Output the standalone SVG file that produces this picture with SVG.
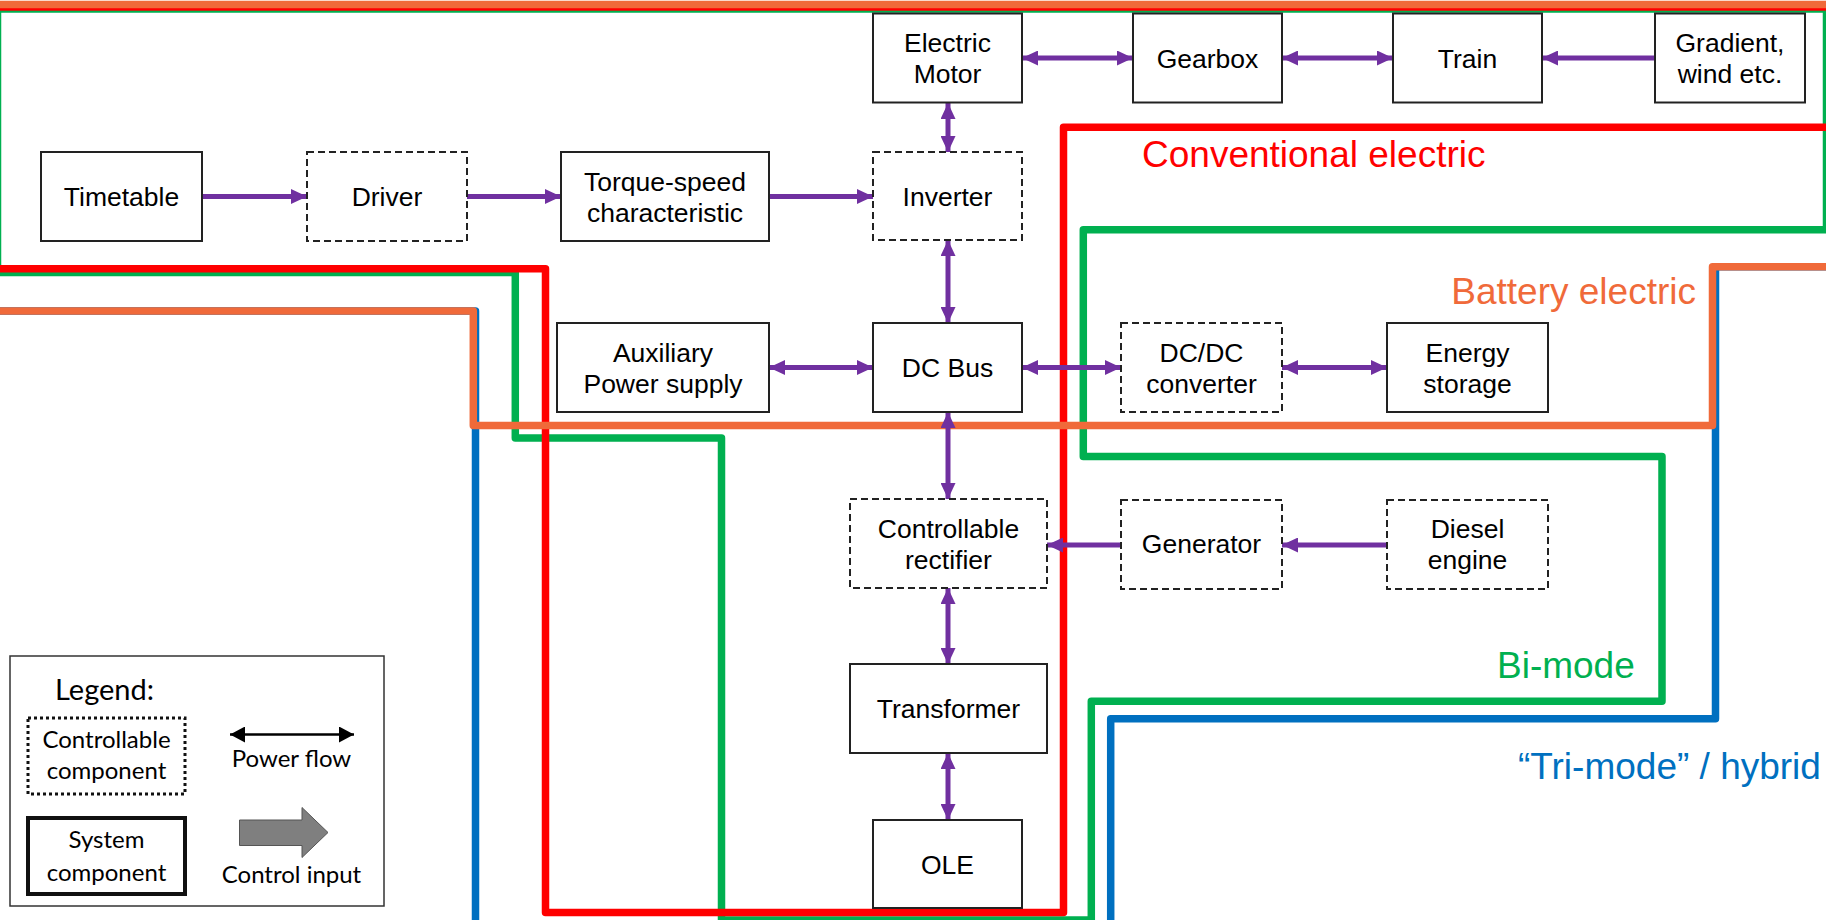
<svg xmlns="http://www.w3.org/2000/svg" width="1826" height="920" viewBox="0 0 1826 920">
<style>
.box{fill:#fff;stroke:#222;stroke-width:2}
.dash{fill:#fff;stroke:#222;stroke-width:2;stroke-dasharray:7 4}
.t{font-family:"Liberation Sans",Arial,sans-serif;font-size:26.5px;fill:#000;text-anchor:middle}
.lbl{font-family:"Liberation Sans",Arial,sans-serif;font-size:37px}
.zone{fill:none;stroke-width:7.5;stroke-linejoin:round}
.con{fill:none;stroke:#7030A0;stroke-width:5;marker-end:url(#ah)}
.bi{marker-start:url(#ah)}
.lg{font-family:Lato,"Open Sans",sans-serif;font-size:24px;fill:#000;text-anchor:middle}
.lgh{font-family:Lato,"Open Sans",sans-serif;font-size:29px;fill:#000;text-anchor:start}
</style>
<defs>
<marker id="ah" markerUnits="userSpaceOnUse" markerWidth="16" markerHeight="15" refX="16" refY="7.5" orient="auto-start-reverse">
<path d="M0,0 L16,7.5 L0,15 z" fill="#7030A0"/>
</marker>
<marker id="bk" markerUnits="userSpaceOnUse" markerWidth="15" markerHeight="16" refX="15" refY="8" orient="auto-start-reverse">
<path d="M0,0 L15,8 L0,16 z" fill="#000"/>
</marker>
</defs>
<rect width="1826" height="920" fill="#fff"/>

<g id="zones">
<path class="zone" stroke="#00B050" d="M-2.5 272.5 H515.3 V438 H721.5 V920 H1091.3 V701.2 H1662 V456.5 H1083.3 V229.7 H1826.5 V9 H-2.5 Z"/>
<path class="zone" stroke="#0070C0" d="M-10 311 H475.5 V935 M1110.7 935 V718.8 H1715.5 V266.7 H1840"/>
<path class="zone" stroke="#FF0000" d="M-10 268.8 H545.5 V912.5 H1063.5 V127.2 H1840 V7 H-10 Z"/>
<path class="zone" stroke="#F06A3A" d="M-10 311 H473.3 V425.5 H1712.5 V266.7 H1840 V4.5 H-10 Z"/>
<text class="lbl" x="1142" y="167" fill="#FF0000">Conventional electric</text>
<text class="lbl" x="1696" y="304" fill="#F06A3A" text-anchor="end">Battery electric</text>
<text class="lbl" x="1497" y="678" fill="#00B050">Bi-mode</text>
<text class="lbl" x="1518" y="779" fill="#0070C0">“Tri-mode” / hybrid</text>
</g>

<g id="connectors">
<path class="con" d="M202 196.5 H307"/>
<path class="con" d="M467 196.5 H561"/>
<path class="con" d="M769 196.5 H873"/>
<path class="con bi" d="M1022 58 H1133"/>
<path class="con bi" d="M1282 58 H1393"/>
<path class="con" d="M1655 58 H1542"/>
<path class="con bi" d="M948 103 V152"/>
<path class="con bi" d="M948 240 V323"/>
<path class="con bi" d="M769 367.5 H873"/>
<path class="con bi" d="M1022 367.5 H1121"/>
<path class="con bi" d="M1282 367.5 H1387"/>
<path class="con bi" d="M948 412 V499"/>
<path class="con" d="M1121 545 H1047"/>
<path class="con" d="M1387 545 H1282"/>
<path class="con bi" d="M948 588 V664"/>
<path class="con bi" d="M948 753 V820"/>
</g>

<g id="electric-motor"><rect class="box" x="873" y="13.5" width="149" height="89"/><text class="t" x="947.5" y="52">Electric</text><text class="t" x="947.5" y="83">Motor</text></g>
<g id="gearbox"><rect class="box" x="1133" y="13.5" width="149" height="89"/><text class="t" x="1207.5" y="67.5">Gearbox</text></g>
<g id="train"><rect class="box" x="1393" y="13.5" width="149" height="89"/><text class="t" x="1467.5" y="67.5">Train</text></g>
<g id="gradient"><rect class="box" x="1655" y="13.5" width="150" height="89"/><text class="t" x="1730" y="52">Gradient,</text><text class="t" x="1730" y="83">wind etc.</text></g>

<g id="timetable"><rect class="box" x="41" y="152" width="161" height="89"/><text class="t" x="121.5" y="206">Timetable</text></g>
<g id="driver"><rect class="dash" x="307" y="152" width="160" height="89"/><text class="t" x="387" y="206">Driver</text></g>
<g id="torque-speed"><rect class="box" x="561" y="152" width="208" height="89"/><text class="t" x="665" y="190.5">Torque-speed</text><text class="t" x="665" y="221.5">characteristic</text></g>
<g id="inverter"><rect class="dash" x="873" y="152" width="149" height="88"/><text class="t" x="947.5" y="206">Inverter</text></g>

<g id="auxiliary"><rect class="box" x="557" y="323" width="212" height="89"/><text class="t" x="663" y="361.5">Auxiliary</text><text class="t" x="663" y="392.5">Power supply</text></g>
<g id="dc-bus"><rect class="box" x="873" y="323" width="149" height="89"/><text class="t" x="947.5" y="377">DC Bus</text></g>
<g id="dcdc"><rect class="dash" x="1121" y="323" width="161" height="89"/><text class="t" x="1201.5" y="361.5">DC/DC</text><text class="t" x="1201.5" y="392.5">converter</text></g>
<g id="energy-storage"><rect class="box" x="1387" y="323" width="161" height="89"/><text class="t" x="1467.5" y="361.5">Energy</text><text class="t" x="1467.5" y="392.5">storage</text></g>

<g id="rectifier"><rect class="dash" x="850" y="499" width="197" height="89"/><text class="t" x="948.5" y="537.5">Controllable</text><text class="t" x="948.5" y="568.5">rectifier</text></g>
<g id="generator"><rect class="dash" x="1121" y="500" width="161" height="89"/><text class="t" x="1201.5" y="553">Generator</text></g>
<g id="diesel"><rect class="dash" x="1387" y="500" width="161" height="89"/><text class="t" x="1467.5" y="537.5">Diesel</text><text class="t" x="1467.5" y="568.5">engine</text></g>
<g id="transformer"><rect class="box" x="850" y="664" width="197" height="89"/><text class="t" x="948.5" y="718">Transformer</text></g>
<g id="ole"><rect class="box" x="873" y="820" width="149" height="88"/><text class="t" x="947.5" y="873.5">OLE</text></g>

<g id="legend">
<rect x="10" y="656" width="374" height="250" fill="#fff" stroke="#333" stroke-width="1.5"/>
<text class="lgh" x="55" y="699.5">Legend:</text>
<rect x="28" y="718" width="157" height="76" fill="none" stroke="#111" stroke-width="3" stroke-dasharray="3 3"/>
<text class="lg" x="106.5" y="747.5">Controllable</text>
<text class="lg" x="106.5" y="778.5">component</text>
<line x1="230" y1="734.5" x2="354" y2="734.5" stroke="#000" stroke-width="2.5" marker-start="url(#bk)" marker-end="url(#bk)"/>
<text class="lg" x="291.5" y="767">Power flow</text>
<rect x="28" y="818" width="157" height="76" fill="none" stroke="#111" stroke-width="4"/>
<text class="lg" x="106.5" y="848">System</text>
<text class="lg" x="106.5" y="880.5">component</text>
<path d="M239.5 820 H302 V807.5 L328 832.5 L302 857.5 V845.5 H239.5 Z" fill="#7F7F7F" stroke="#555" stroke-width="1"/>
<text class="lg" x="291.5" y="883">Control input</text>
</g>
</svg>
